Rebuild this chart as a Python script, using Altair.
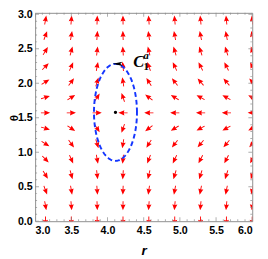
import altair as alt
import pandas as pd
import numpy as np

# ---- data ----
R_COLS = [3.143, 3.5, 3.857, 4.214, 4.571, 4.929, 5.286, 5.643, 6.0]
THETA_ROWS = [0.0, 0.224, 0.449, 0.673, 0.898, 1.122, 1.346, 1.571,
              1.795, 2.020, 2.244, 2.468, 2.693, 2.917, 3.142]
# arrow direction (degrees, counter-clockwise from +r) per column, bottom row first
ANGLES = [
    [-90, -79.9, -69.4, -58.1, -45.6, -31.7, -16.3, 0, 16.3, 31.7, 45.6, 58.1, 69.4, 79.9, 90],
    [-90, -85.4, -80.4, -74.4, -66.3, -54.0, -33.1, 0, 33.1, 54.0, 66.3, 74.4, 80.4, 85.4, 90],
    [-90, -88.0, -85.9, -83.2, -79.4, -72.7, -56.7, 0, 56.7, 72.7, 79.4, 83.2, 85.9, 88.0, 90],
    [-90, -91.0, -92.2, -93.7, -95.7, -99.4, -109.3, 180, 109.3, 99.4, 95.7, 93.7, 92.2, 91.0, 90],
    [-90, -93.9, -98.2, -103.5, -110.6, -121.9, -142.8, 180, 142.8, 121.9, 110.6, 103.5, 98.2, 93.9, 90],
    [-90, -95.0, -100.4, -106.9, -115.5, -128.3, -149.0, 180, 149.0, 128.3, 115.5, 106.9, 100.4, 95.0, 90],
    [-90, -95.3, -101.2, -108.1, -117.2, -130.4, -150.9, 180, 150.9, 130.4, 117.2, 108.1, 101.2, 95.3, 90],
    [-90, -95.3, -101.2, -108.1, -117.2, -130.4, -150.9, 180, 150.9, 130.4, 117.2, 108.1, 101.2, 95.3, 90],
    [-90, -95.3, -101.2, -108.1, -117.2, -130.4, -150.9, 180, 150.9, 130.4, 117.2, 108.1, 101.2, 95.3, 90],
]
ELLIPSE_CENTER = (4.11, 1.578)
ELLIPSE_SEMI_R = 0.297
ELLIPSE_SEMI_THETA = 0.703
ARROWHEAD_POS = (4.14, 2.281)
LABEL_C = (4.43, 2.30)
LABEL_SUB = (4.535, 2.235)
LABEL_SUP = (4.535, 2.40)

X_TICKS_MAJOR = [3.0, 3.5, 4.0, 4.5, 5.0, 5.5, 6.0]
Y_TICKS_MAJOR = [0.0, 0.5, 1.0, 1.5, 2.0, 2.5, 3.0]
X_DOMAIN = [3.0, 6.0]
Y_DOMAIN = [0.0, 3.021]

AXIS_GRAY = "#8c8c8c"

# ---- tables ----
rows = []
for i, r in enumerate(R_COLS):
    for j, th in enumerate(THETA_ROWS):
        rows.append({"r": r, "theta": th, "rot": (90 - ANGLES[i][j]) % 360})
arrows_df = pd.DataFrame(rows)

t = np.linspace(0, 2 * np.pi, 241)
ell_df = pd.DataFrame({
    "r": ELLIPSE_CENTER[0] + ELLIPSE_SEMI_R * np.cos(t),
    "theta": ELLIPSE_CENTER[1] + ELLIPSE_SEMI_THETA * np.sin(t),
    "i": np.arange(len(t)),
})

x_minor = [round(3.0 + 0.1 * k, 2) for k in range(31)]
y_minor = [round(0.1 * k, 2) for k in range(31)]
tick_v = []  # vertical ticks on bottom/top
for v in x_minor:
    L = 8 if any(abs(v - m) < 1e-6 for m in X_TICKS_MAJOR) else 4
    tick_v.append({"r": v, "theta": Y_DOMAIN[0], "len": L})
    tick_v.append({"r": v, "theta": Y_DOMAIN[1], "len": L})
tick_h = []  # horizontal ticks on left/right
for v in y_minor:
    L = 8 if any(abs(v - m) < 1e-6 for m in Y_TICKS_MAJOR) else 4
    tick_h.append({"r": X_DOMAIN[0], "theta": v, "len": L})
    tick_h.append({"r": X_DOMAIN[1], "theta": v, "len": L})
tick_v_df = pd.DataFrame(tick_v)
tick_h_df = pd.DataFrame(tick_h)


def X():
    return alt.X("r:Q", scale=alt.Scale(domain=X_DOMAIN, nice=False, zero=False),
                 axis=alt.Axis(values=X_TICKS_MAJOR, format=".1f", ticks=False, domain=False,
                               grid=False, labelFont="Liberation Sans", labelFontWeight="bold",
                               labelFontSize=11, labelColor="black", labelPadding=4,
                               title="r", titleFont="Liberation Sans", titleFontStyle="italic",
                               titleFontWeight="bold", titleFontSize=14, titleColor="black",
                               titleY=34, titleBaseline="alphabetic"))


def Y():
    return alt.Y("theta:Q", scale=alt.Scale(domain=Y_DOMAIN, nice=False, zero=False),
                 axis=alt.Axis(values=Y_TICKS_MAJOR, format=".1f", ticks=False, domain=False,
                               grid=False, labelFont="Liberation Sans", labelFontWeight="bold",
                               labelFontSize=11, labelColor="black", labelPadding=3,
                               title="θ", titleFont="Liberation Sans", titleFontWeight="bold",
                               titleFontSize=12, titleColor="black", titleAngle=270,
                               titleX=-22, titleY=108, titleAlign="center",
                               titleBaseline="middle"))


ARROW_PATH = "M0,-1 L0.55,0.3 L0.1,0.18 L0.1,1 L-0.1,1 L-0.1,0.18 L-0.55,0.3 Z"
HEAD_PATH = "M-1,0 L1,-0.45 L0.55,0 L1,0.45 Z"

arrows = alt.Chart(arrows_df).mark_point(
    shape=ARROW_PATH, filled=True, color="#ff0000", size=90, opacity=1, clip=True
).encode(x=X(), y=Y(), angle=alt.Angle("rot:Q", scale=None))

ticks_v = alt.Chart(tick_v_df).mark_tick(orient="vertical", color=AXIS_GRAY, thickness=1, clip=True).encode(
    x=X(), y=Y(), size=alt.Size("len:Q", scale=None))
ticks_h = alt.Chart(tick_h_df).mark_tick(orient="horizontal", color=AXIS_GRAY, thickness=1, clip=True).encode(
    x=X(), y=Y(), size=alt.Size("len:Q", scale=None))

ellipse = alt.Chart(ell_df).mark_line(
    color="#1436ff", strokeWidth=2, strokeDash=[5, 3], clip=True
).encode(x=X(), y=Y(), order=alt.Order("i:Q"))

pt_df = pd.DataFrame({"r": [ELLIPSE_CENTER[0]], "theta": [ELLIPSE_CENTER[1]]})
center = alt.Chart(pt_df).mark_point(shape="circle", filled=True, color="black", size=12, opacity=1).encode(
    x=X(), y=Y())

head_df = pd.DataFrame({"r": [ARROWHEAD_POS[0]], "theta": [ARROWHEAD_POS[1]]})
head = alt.Chart(head_df).mark_point(shape=HEAD_PATH, filled=True, color="black", size=100, opacity=1).encode(
    x=X(), y=Y())

c_df = pd.DataFrame({"r": [LABEL_C[0]], "theta": [LABEL_C[1]], "txt": ["C"]})
sub_df = pd.DataFrame({"r": [LABEL_SUB[0]], "theta": [LABEL_SUB[1]], "txt": ["1"]})
sup_df = pd.DataFrame({"r": [LABEL_SUP[0]], "theta": [LABEL_SUP[1]], "txt": ["a"]})
lab_c = alt.Chart(c_df).mark_text(font="Liberation Serif", fontStyle="italic", fontWeight="bold",
                                  fontSize=17, color="black", align="center", baseline="middle").encode(
    x=X(), y=Y(), text="txt:N")
lab_sub = alt.Chart(sub_df).mark_text(font="Liberation Serif", fontWeight="bold",
                                      fontSize=11, color="black", align="center", baseline="middle").encode(
    x=X(), y=Y(), text="txt:N")
lab_sup = alt.Chart(sup_df).mark_text(font="Liberation Serif", fontStyle="italic", fontWeight="bold",
                                      fontSize=11, color="black", align="center", baseline="middle").encode(
    x=X(), y=Y(), text="txt:N")

chart = alt.layer(arrows, ticks_v, ticks_h, ellipse, center, head, lab_c, lab_sub, lab_sup).properties(
    width=224, height=215,
    autosize=alt.AutoSizeParams(type="none"),
    padding={"left": 28, "top": 1, "right": 8, "bottom": 35},
    background="white",
).configure_view(stroke=AXIS_GRAY, strokeWidth=1)

chart.save("out.html", embed_options={"renderer": "svg", "actions": False})
